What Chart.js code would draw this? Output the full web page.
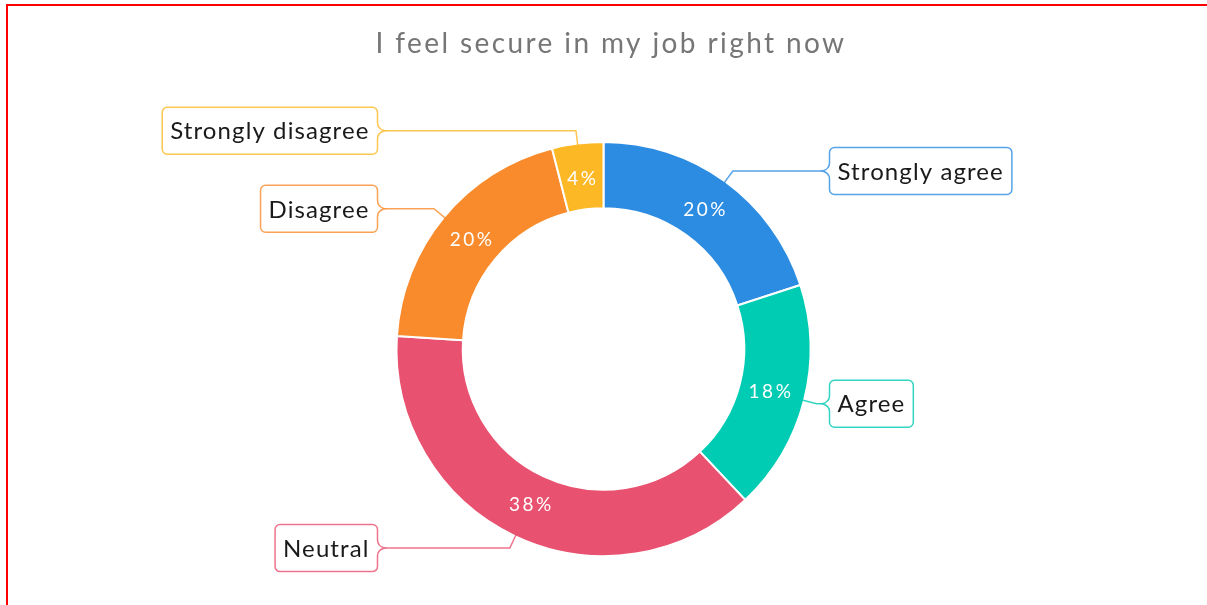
<!DOCTYPE html>
<html>
<head>
<meta charset="utf-8">
<title>Job security survey</title>
<script src="https://cdn.jsdelivr.net/npm/chart.js@4.4.1/dist/chart.umd.min.js"></script>
<style>
  html, body { margin: 0; padding: 0; background: #fff; overflow: hidden; }
  .frame {
    position: absolute; left: 6px; top: 4px;
    width: 1300px; height: 700px;
    border: 2px solid #ff0000;
  }
  #chart { position: absolute; left: 0; top: 0; }
</style>
</head>
<body>
<div class="frame"></div>
<canvas id="chart" width="1207" height="605"></canvas>
<script>
// survey answers, in percent
const categories = ['Strongly agree', 'Agree', 'Neutral', 'Disagree', 'Strongly disagree'];
const percentages = [20, 18, 38, 20, 4];
const sliceColors = ['#2b8ce2', '#00cbb3', '#e8516f', '#f98b2c', '#fdb826'];
const chartTitle = 'I feel secure in my job right now';

// title is drawn by hand so the letter spacing can be set
const titlePlugin = {
    id: 'spacedTitle',
    afterDraw(chart) {
        const ctx = chart.ctx;
        ctx.save();
        ctx.font = '28px Lato';
        ctx.letterSpacing = '2.4px';
        ctx.fillStyle = '#767676';
        ctx.textAlign = 'center';
        ctx.textBaseline = 'alphabetic';
        ctx.fillText(chartTitle, 611, 53);
        ctx.restore();
    }
};

// callout boxes with a leader line for every slice
const calloutPlugin = {
    id: 'callouts',
    afterDatasetsDraw(chart) {
        const ctx = chart.ctx;
        const meta = chart.getDatasetMeta(0);
        meta.data.forEach((arc, i) => {
            const p = arc.getProps(['x', 'y', 'startAngle', 'endAngle', 'innerRadius', 'outerRadius'], true);
            const mid = (p.startAngle + p.endAngle) / 2;
            const cos = Math.cos(mid), sin = Math.sin(mid);
            const color = sliceColors[i];

            // value inside the ring
            const rMid = (p.innerRadius + p.outerRadius) / 2 - 2;
            ctx.save();
            ctx.font = '19px Lato';
            ctx.letterSpacing = '2.5px';
            ctx.fillStyle = '#ffffff';
            ctx.textAlign = 'center';
            ctx.textBaseline = 'middle';
            ctx.fillText(percentages[i] + '%', p.x + rMid * cos + 1, p.y + rMid * sin);
            ctx.restore();

            // leader line
            const x0 = p.x + (p.outerRadius - 2) * cos, y0 = p.y + (p.outerRadius - 2) * sin;
            const x1 = p.x + (p.outerRadius + 13) * cos, y1 = p.y + (p.outerRadius + 13) * sin;
            const right = cos >= 0;
            const dir = right ? 1 : -1;
            const tipX = p.x + dir * (p.outerRadius + 12);
            const edgeX = p.x + dir * (p.outerRadius + 19);

            ctx.save();
            ctx.globalAlpha = 0.8;
            ctx.strokeStyle = color;
            ctx.lineWidth = 1.5;
            ctx.beginPath();
            ctx.moveTo(x0, y0);
            ctx.lineTo(x1, y1);
            ctx.lineTo(tipX, y1);
            ctx.stroke();
            ctx.restore();

            // box
            ctx.save();
            ctx.font = '24px Lato';
            ctx.letterSpacing = '1.1px';
            const w = ctx.measureText(categories[i]).width + 16;
            const h = 47, r = 5, n = 7;
            const T = y1 - h / 2, B = y1 + h / 2;
            const L = right ? edgeX : edgeX - w;
            const R = right ? edgeX + w : edgeX;
            ctx.beginPath();
            ctx.moveTo(L + r, T);
            ctx.lineTo(R - r, T);
            ctx.arcTo(R, T, R, T + r, r);
            if (!right) {
                ctx.lineTo(R, y1 - n - 1);
                ctx.quadraticCurveTo(R, y1 - 2, R + n, y1);
                ctx.quadraticCurveTo(R, y1 + 2, R, y1 + n + 1);
            }
            ctx.lineTo(R, B - r);
            ctx.arcTo(R, B, R - r, B, r);
            ctx.lineTo(L + r, B);
            ctx.arcTo(L, B, L, B - r, r);
            if (right) {
                ctx.lineTo(L, y1 + n + 1);
                ctx.quadraticCurveTo(L, y1 + 2, L - n, y1);
                ctx.quadraticCurveTo(L, y1 - 2, L, y1 - n - 1);
            }
            ctx.lineTo(L, T + r);
            ctx.arcTo(L, T, L + r, T, r);
            ctx.closePath();
            ctx.fillStyle = '#ffffff';
            ctx.fill();
            ctx.globalAlpha = 0.8;
            ctx.strokeStyle = color;
            ctx.lineWidth = 1.5;
            ctx.stroke();
            ctx.globalAlpha = 1;
            ctx.fillStyle = '#1a1a1a';
            ctx.textAlign = 'left';
            ctx.textBaseline = 'middle';
            ctx.fillText(categories[i], L + 8, y1 + 1);
            ctx.restore();
        });
    }
};

const chart = new Chart(document.getElementById('chart'), {
    type: 'doughnut',
    data: {
        labels: categories,
        datasets: [{
            data: percentages,
            backgroundColor: sliceColors,
            borderColor: '#ffffff',
            borderWidth: 2,
            hoverOffset: 0
        }]
    },
    options: {
        responsive: false,
        animation: false,
        cutout: '68%',
        layout: { padding: { top: 141, bottom: 48, left: 0, right: 0 } },
        plugins: {
            legend: { display: false },
            tooltip: { enabled: false },
            title: { display: false }
        }
    },
    plugins: [calloutPlugin, titlePlugin]
});
</script>
</body>
</html>
